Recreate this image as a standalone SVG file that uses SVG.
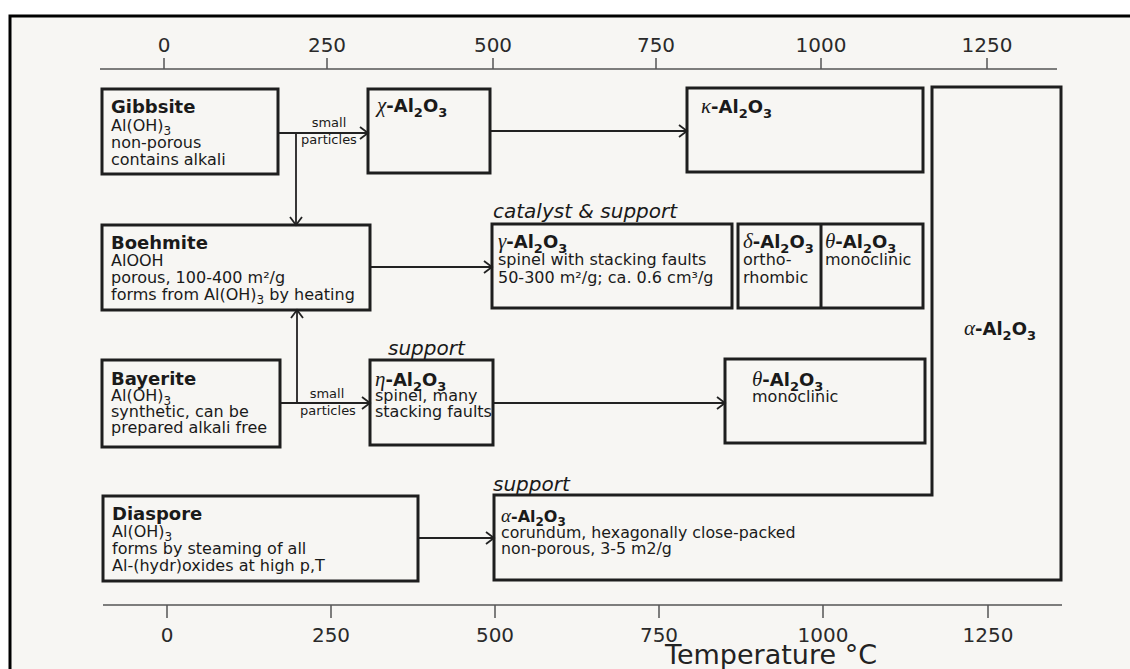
<svg xmlns="http://www.w3.org/2000/svg" width="1130" height="669" viewBox="0 0 1130 669">
<style>
text{font-family:"DejaVu Sans","Verdana",sans-serif;fill:#1a1a1a;}
.t{font-size:16px;}
.h{font-size:18px;font-weight:bold;}
.b{font-weight:bold;}
.g{font-family:"Liberation Serif","Times New Roman",serif;font-style:italic;font-weight:normal;font-size:21px;}
.sb{font-size:13px;font-weight:bold;}
.s{font-size:12px;}
.lab{font-size:20px;font-style:italic;}
.ax{font-size:20px;fill:#2a2a2a;}
.sm{font-size:13px;}
.box{fill:none;stroke:#1e1e1e;stroke-width:3;}
.axis{stroke:#555;stroke-width:1.5;fill:none;}
.con{stroke:#222;stroke-width:1.8;fill:none;marker-end:url(#arr);}
</style>
<defs>
<marker id="arr" markerUnits="userSpaceOnUse" markerWidth="12" markerHeight="14" refX="9" refY="7" orient="auto">
<path d="M1,1 L9,7 L1,13" fill="none" stroke="#222" stroke-width="1.8"/>
</marker>
</defs>
<rect x="0" y="0" width="1130" height="669" fill="#ffffff"/>
<rect x="10" y="16" width="1120" height="653" fill="#f7f6f3"/>
<path d="M10,669 V16 H1130" fill="none" stroke="#000" stroke-width="3"/>

<g id="axis-top">
<path class="axis" d="M100,69 H1057 M164,58 V69 M327,58 V69 M493,58 V69 M656,58 V69 M821,58 V69 M987,58 V69"/>
<text class="ax" x="164" y="52" text-anchor="middle">0</text>
<text class="ax" x="327" y="52" text-anchor="middle">250</text>
<text class="ax" x="493" y="52" text-anchor="middle">500</text>
<text class="ax" x="656" y="52" text-anchor="middle">750</text>
<text class="ax" x="821" y="52" text-anchor="middle">1000</text>
<text class="ax" x="987" y="52" text-anchor="middle">1250</text>
</g>
<g id="axis-bottom">
<path class="axis" d="M103,605 H1062 M167,605 V618 M331,605 V618 M495,605 V618 M659,605 V618 M823,605 V618 M988,605 V618"/>
<text class="ax" x="167" y="642" text-anchor="middle">0</text>
<text class="ax" x="331" y="642" text-anchor="middle">250</text>
<text class="ax" x="495" y="642" text-anchor="middle">500</text>
<text class="ax" x="659" y="642" text-anchor="middle">750</text>
<text class="ax" x="823" y="642" text-anchor="middle">1000</text>
<text class="ax" x="988" y="642" text-anchor="middle">1250</text>
<text x="771" y="664" text-anchor="middle" style="font-size:27px;fill:#222;">Temperature °C</text>
</g>

<g id="connectors">
<path class="con" d="M278,133 H368"/>
<path class="con" d="M296,133 V225"/>
<path class="con" d="M490,131 H687"/>
<path class="con" d="M370,267 H492"/>
<path class="con" d="M280,403 H370"/>
<path class="con" d="M297,403 V310"/>
<path class="con" d="M493,403 H725"/>
<path class="con" d="M418,538 H494"/>
<text class="sm" x="329" y="127" text-anchor="middle">small</text>
<text class="sm" x="329" y="144" text-anchor="middle">particles</text>
<text class="sm" x="327" y="398" text-anchor="middle">small</text>
<text class="sm" x="328" y="415" text-anchor="middle">particles</text>
</g>

<g id="gibbsite">
<rect class="box" x="102" y="89" width="176" height="85"/>
<text class="h" x="111" y="113">Gibbsite</text>
<text class="t" x="111" y="131">Al(OH)<tspan class="s" dy="4">3</tspan></text>
<text class="t" x="111" y="148">non-porous</text>
<text class="t" x="111" y="165">contains alkali</text>
</g>

<g id="chi">
<rect class="box" x="368" y="89" width="122" height="84"/>
<text class="h" x="377" y="112"><tspan class="g">χ</tspan>-Al<tspan class="sb" dy="5">2</tspan><tspan dy="-5">O</tspan><tspan class="sb" dy="5">3</tspan></text>
</g>

<g id="kappa">
<rect class="box" x="687" y="88" width="236" height="84"/>
<text class="h" x="701" y="113"><tspan class="g">κ</tspan>-Al<tspan class="sb" dy="5">2</tspan><tspan dy="-5">O</tspan><tspan class="sb" dy="5">3</tspan></text>
</g>

<g id="boehmite">
<rect class="box" x="102" y="225" width="268" height="85"/>
<text class="h" x="111" y="249">Boehmite</text>
<text class="t" x="111" y="266">AlOOH</text>
<text class="t" x="111" y="283">porous, 100-400 m²/g</text>
<text class="t" x="111" y="300">forms from Al(OH)<tspan class="s" dy="4">3</tspan><tspan dy="-4"> by heating</tspan></text>
</g>

<g id="gamma">
<text class="lab" x="493" y="218">catalyst &amp; support</text>
<rect class="box" x="492" y="224" width="240" height="84"/>
<text class="h" x="498" y="248"><tspan class="g">γ</tspan>-Al<tspan class="sb" dy="5">2</tspan><tspan dy="-5">O</tspan><tspan class="sb" dy="5">3</tspan></text>
<text class="t" x="498" y="265">spinel with stacking faults</text>
<text class="t" x="498" y="283">50-300 m²/g; ca. 0.6 cm³/g</text>
</g>

<g id="delta-theta">
<rect class="box" x="738" y="224" width="185" height="84"/>
<path class="box" d="M821,224 V308"/>
<text class="h" x="743" y="248"><tspan class="g">δ</tspan>-Al<tspan class="sb" dy="5">2</tspan><tspan dy="-5">O</tspan><tspan class="sb" dy="5">3</tspan></text>
<text class="t" x="743" y="265">ortho-</text>
<text class="t" x="743" y="283">rhombic</text>
<text class="h" x="825" y="248"><tspan class="g">θ</tspan>-Al<tspan class="sb" dy="5">2</tspan><tspan dy="-5">O</tspan><tspan class="sb" dy="5">3</tspan></text>
<text class="t" x="825" y="265">monoclinic</text>
</g>

<g id="bayerite">
<rect class="box" x="102" y="360" width="178" height="87"/>
<text class="h" x="111" y="385">Bayerite</text>
<text class="t" x="111" y="401">Al(OH)<tspan class="s" dy="4">3</tspan></text>
<text class="t" x="111" y="417">synthetic, can be</text>
<text class="t" x="111" y="433">prepared alkali free</text>
</g>

<g id="eta">
<text class="lab" x="388" y="355">support</text>
<rect class="box" x="370" y="360" width="123" height="85"/>
<text class="h" x="375" y="386"><tspan class="g">η</tspan>-Al<tspan class="sb" dy="5">2</tspan><tspan dy="-5">O</tspan><tspan class="sb" dy="5">3</tspan></text>
<text class="t" x="375" y="401">spinel, many</text>
<text class="t" x="375" y="417">stacking faults</text>
</g>

<g id="theta">
<rect class="box" x="725" y="359" width="200" height="84"/>
<text class="h" x="752" y="386"><tspan class="g">θ</tspan>-Al<tspan class="sb" dy="5">2</tspan><tspan dy="-5">O</tspan><tspan class="sb" dy="5">3</tspan></text>
<text class="t" x="752" y="402">monoclinic</text>
</g>

<g id="diaspore">
<rect class="box" x="103" y="496" width="315" height="85"/>
<text class="h" x="112" y="520">Diaspore</text>
<text class="t" x="112" y="537">Al(OH)<tspan class="s" dy="4">3</tspan></text>
<text class="t" x="112" y="554">forms by steaming of all</text>
<text class="t" x="112" y="571">Al-(hydr)oxides at high p,T</text>
</g>

<g id="alpha">
<text class="lab" x="493" y="491">support</text>
<path class="box" d="M932,87 H1061 V580 H494 V495 H932 Z"/>
<text class="h" x="1000" y="335" text-anchor="middle"><tspan class="g">α</tspan>-Al<tspan class="sb" dy="5">2</tspan><tspan dy="-5">O</tspan><tspan class="sb" dy="5">3</tspan></text>
<text class="h" x="501" y="522" style="font-size:16px"><tspan class="g" style="font-size:19px">α</tspan>-Al<tspan class="sb" style="font-size:12px" dy="4">2</tspan><tspan dy="-4">O</tspan><tspan class="sb" style="font-size:12px" dy="4">3</tspan></text>
<text class="t" x="501" y="538" style="font-size:15.8px">corundum, hexagonally close-packed</text>
<text class="t" x="501" y="554" style="font-size:15.8px">non-porous, 3-5 m2/g</text>
</g>
</svg>
